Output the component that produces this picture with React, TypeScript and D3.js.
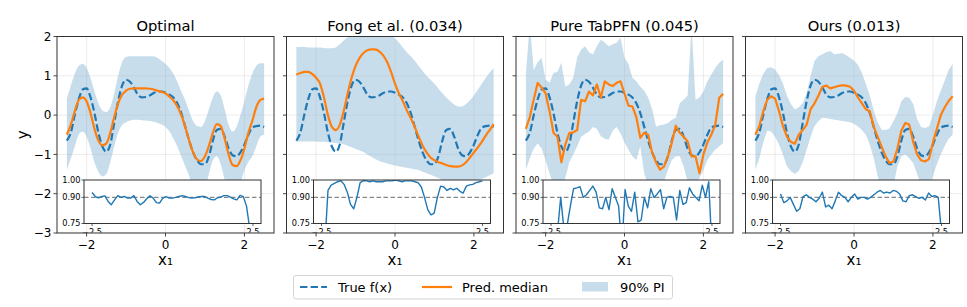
import * as d3 from 'd3';

// x grid of the posterior evaluation points
const X_VALUES = [
  -2.5, -2.4, -2.3, -2.2, -2.1, -2.0, -1.9, -1.8, -1.7, -1.6,
  -1.5, -1.4, -1.3, -1.2, -1.1, -1.0, -0.9, -0.8, -0.7, -0.6,
  -0.5, -0.4, -0.3, -0.2, -0.1, 0.0, 0.1, 0.2, 0.3, 0.4,
  0.5, 0.6, 0.7, 0.8, 0.9, 1.0, 1.1, 1.2, 1.3, 1.4,
  1.5, 1.6, 1.7, 1.8, 1.9, 2.0, 2.1, 2.2, 2.3, 2.4, 2.5,
];

const TRUE_F = [
  -0.65, -0.45, 0.0, 0.4, 0.65, 0.68, 0.45, 0.05, -0.45, -0.8,
  -0.93, -0.75, -0.2, 0.35, 0.75, 0.9, 0.85, 0.7, 0.52, 0.45,
  0.46, 0.5, 0.56, 0.6, 0.6, 0.57, 0.52, 0.45, 0.3, 0.05,
  -0.3, -0.65, -0.95, -1.15, -1.25, -1.25, -1.05, -0.65, -0.38, -0.35,
  -0.55, -0.85, -1.02, -1.05, -0.95, -0.75, -0.5, -0.32, -0.28, -0.27, -0.3,
];

const OPT_MEDIAN = [
  -0.5, -0.25, 0.1, 0.38, 0.45, 0.35, 0.05, -0.35, -0.65, -0.77,
  -0.72, -0.45, -0.05, 0.3, 0.52, 0.62, 0.67, 0.68, 0.68, 0.68,
  0.68, 0.67, 0.65, 0.62, 0.59, 0.55, 0.47, 0.37, 0.22, 0.0,
  -0.3, -0.65, -0.95, -1.13, -1.17, -1.05, -0.78, -0.45, -0.23, -0.28,
  -0.6, -1.0, -1.27, -1.3, -1.15, -0.85, -0.45, -0.15, 0.2, 0.38, 0.42,
];
const OPT_UPPER = [
  0.42, 0.75, 1.05, 1.25, 1.3, 1.2, 0.95, 0.6, 0.3, 0.12,
  0.08, 0.2, 0.55, 1.0, 1.35, 1.48, 1.5, 1.5, 1.5, 1.5,
  1.5, 1.5, 1.5, 1.45, 1.38, 1.3, 1.2, 1.05, 0.85, 0.6,
  0.38, 0.1, -0.15, -0.28, -0.3, -0.15, 0.15, 0.45, 0.6, 0.5,
  0.15, -0.25, -0.42, -0.3, 0.0, 0.35, 0.75, 1.05, 1.25, 1.32, 1.32,
];
const OPT_LOWER = [
  -1.4, -1.1, -0.8, -0.5, -0.42, -0.55, -0.85, -1.2, -1.45, -1.56,
  -1.5, -1.2, -0.8, -0.45, -0.25, -0.18, -0.14, -0.12, -0.12, -0.13,
  -0.14, -0.15, -0.17, -0.2, -0.24, -0.3, -0.42, -0.6, -0.8, -1.05,
  -1.3, -1.55, -1.85, -2.05, -2.1, -1.9, -1.5, -1.15, -1.05, -1.25,
  -1.65, -2.0, -2.15, -2.05, -1.75, -1.4, -1.2, -1.05, -0.8, -0.55, -0.5,
];

const FONG_MEDIAN = [
  1.03, 1.07, 1.1, 1.1, 1.05, 0.95, 0.8, 0.45, 0.0, -0.3,
  -0.38, -0.25, 0.1, 0.55, 0.95, 1.25, 1.45, 1.58, 1.65, 1.67,
  1.67, 1.62, 1.52, 1.35, 1.1, 0.8, 0.55, 0.35, 0.12, -0.08,
  -0.3, -0.55, -0.78, -0.95, -1.08, -1.15, -1.2, -1.23, -1.27, -1.3,
  -1.31, -1.31, -1.28, -1.2, -1.08, -0.95, -0.82, -0.68, -0.52, -0.38, -0.23,
];
const FONG_UPPER = [
  1.73, 1.73, 1.73, 1.72, 1.72, 1.72, 1.72, 1.71, 1.7, 1.7,
  1.72, 1.8, 1.9, 1.98, 2.05, 2.1, 2.15, 2.15, 2.15, 2.15,
  2.15, 2.15, 2.15, 2.1, 2.02, 1.95, 1.85, 1.72, 1.6, 1.5,
  1.38, 1.25, 1.12, 1.0, 0.9, 0.8, 0.68, 0.56, 0.45, 0.35,
  0.27, 0.22, 0.22, 0.28, 0.38, 0.5, 0.65, 0.8, 0.95, 1.08, 1.2,
];
const FONG_LOWER = [
  -0.67, -0.67, -0.67, -0.67, -0.67, -0.67, -0.68, -0.68, -0.69, -0.7,
  -0.71, -0.72, -0.74, -0.78, -0.82, -0.86, -0.9, -0.94, -1.0, -1.06,
  -1.12, -1.17, -1.2, -1.23, -1.26, -1.28, -1.3, -1.32, -1.34, -1.36,
  -1.38, -1.4, -1.44, -1.48, -1.52, -1.56, -1.6, -1.65, -1.7, -1.72,
  -1.74, -1.75, -1.75, -1.74, -1.72, -1.7, -1.66, -1.62, -1.58, -1.53, -1.48,
];

const TAB_MEDIAN = [
  -0.35, -0.05, 0.4, 0.82, 0.7, 0.55, 0.1, -0.45, -0.55, -1.2,
  -0.75, -0.46, -0.44, -0.38, 0.39, 0.35, 0.6, 0.5, 0.78, 0.45,
  0.86, 0.78, 0.74, 0.82, 0.86, 0.55, 0.24, 0.22, -0.05, -0.58,
  -0.45, -0.5, -0.95, -1.2, -1.39, -1.31, -1.05, -0.7, -0.27, -0.45,
  -0.55, -0.67, -1.05, -1.05, -1.48, -1.0, -0.7, -0.5, -0.25, 0.44, 0.54,
];
const TAB_UPPER = [
  1.07, 2.3, 1.15, 1.35, 1.45, 0.9, 0.82, 1.07, 1.1, 1.33,
  0.73, 0.78, 0.95, 1.46, 1.67, 1.75, 1.6, 1.54, 1.75, 1.92,
  1.85, 1.75, 1.8, 1.84, 1.97, 1.46, 1.3, 0.95, 0.86, 0.72,
  0.62, 0.45, 0.15, -0.29, -0.26, -0.24, -0.2, -0.12, -0.07, 0.3,
  0.39, 0.5, 2.3, 0.39, 0.45, 0.6, 0.86, 1.03, 1.2, 1.33, 1.41,
];
const TAB_LOWER = [
  -1.39, -1.1, -0.85, -0.72, -0.85, -1.15, -1.48, -1.8, -2.0, -1.9,
  -1.6, -1.2, -1.0, -0.8, -0.55, -0.48, -0.42, -0.3, -0.35, -0.54,
  -0.6, -0.63, -0.4, -0.3, -0.46, -0.7, -0.88, -1.05, -1.14, -0.8,
  -1.48, -1.8, -1.9, -1.85, -1.9, -1.7, -1.4, -1.14, -1.05, -1.05,
  -1.3, -1.7, -1.85, -1.9, -1.6, -1.39, -1.14, -1.0, -0.88, -0.8, -0.71,
];

const OURS_MEDIAN = [
  -0.5, -0.28, 0.1, 0.39, 0.48, 0.42, 0.1, -0.28, -0.55, -0.68,
  -0.73, -0.5, -0.38, -0.24, 0.15, 0.3, 0.5, 0.72, 0.75, 0.68,
  0.71, 0.74, 0.76, 0.75, 0.72, 0.62, 0.45, 0.3, 0.15, 0.1,
  -0.3, -0.55, -0.8, -1.05, -1.22, -1.18, -0.85, -0.4, -0.2, -0.24,
  -0.68, -1.0, -1.15, -1.18, -1.12, -0.7, -0.35, 0.0, 0.2, 0.36, 0.48,
];
const OURS_UPPER = [
  0.48, 0.8, 1.05, 1.2, 1.22, 1.16, 1.02, 0.8, 0.5, 0.28,
  0.14, 0.2, 0.3, 0.55, 1.0, 1.38, 1.5, 1.55, 1.6, 1.63,
  1.55, 1.56, 1.58, 1.52, 1.46, 1.38, 1.28, 1.08, 0.8, 0.5,
  0.12, -0.18, -0.37, -0.38, -0.34, -0.15, 0.05, 0.35, 0.46, 0.44,
  0.28, -0.1, -0.3, -0.33, -0.29, 0.0, 0.35, 0.62, 0.88, 1.15, 1.3,
];
const OURS_LOWER = [
  -1.39, -1.1, -0.7, -0.4, -0.42, -0.55, -0.75, -1.0, -1.3, -1.42,
  -1.5, -1.42, -1.2, -0.88, -0.55, -0.28, -0.15, -0.07, -0.08, -0.1,
  -0.12, -0.13, -0.15, -0.16, -0.18, -0.22, -0.29, -0.38, -0.5, -0.75,
  -1.1, -1.55, -1.9, -2.05, -2.1, -1.8, -1.3, -1.05, -1.0, -1.1,
  -1.22, -1.5, -1.8, -1.95, -1.9, -1.55, -1.25, -1.0, -0.78, -0.6, -0.5,
];

// local coverage of the 90% interval (inset)
const OPT_COVERAGE = [
  0.928, 0.905, 0.898, 0.905, 0.909, 0.877, 0.858, 0.886, 0.91, 0.9,
  0.906, 0.896, 0.896, 0.91, 0.877, 0.858, 0.871, 0.892, 0.909, 0.896,
  0.87, 0.868, 0.896, 0.905, 0.896, 0.896, 0.9, 0.905, 0.91, 0.905,
  0.899, 0.896, 0.898, 0.902, 0.906, 0.905, 0.896, 0.888, 0.886, 0.898,
  0.902, 0.91, 0.91, 0.902, 0.892, 0.886, 0.912, 0.905, 0.85, 0.72, 0.5,
];
const FONG_COVERAGE = [
  0.55, 0.62, 0.94, 0.97, 0.98, 0.99, 0.996, 0.975, 0.93, 0.86,
  0.835, 0.9, 0.985, 0.996, 0.995, 0.99, 0.995, 0.99, 0.99, 0.99,
  0.995, 0.995, 0.995, 1.0, 0.995, 0.99, 0.995, 0.995, 0.995, 0.99,
  0.985, 0.96, 0.9, 0.83, 0.8, 0.81, 0.9, 0.965, 0.96, 0.94,
  0.952, 0.943, 0.952, 0.935, 0.925, 0.965, 0.972, 0.975, 0.985, 0.99, 0.995,
];
const TAB_COVERAGE = [
  0.5, 0.55, 0.7, 0.9, 0.72, 0.74, 0.85, 0.95, 0.955, 0.962,
  0.9, 0.915, 0.94, 0.965, 0.93, 0.84, 0.835, 0.9, 0.83, 0.95,
  0.9, 0.85, 0.6, 0.945, 0.85, 0.82, 0.93, 0.76, 0.77, 0.9,
  0.84, 0.95, 0.9, 0.92, 0.945, 0.835, 0.9, 0.905, 0.9, 0.77,
  0.94, 0.86, 0.87, 0.955, 0.92, 0.9, 0.88, 0.97, 0.9, 0.99, 0.6,
];
const OURS_COVERAGE = [
  0.92, 0.87, 0.88, 0.9, 0.86, 0.82, 0.835, 0.905, 0.915, 0.9,
  0.89, 0.875, 0.895, 0.93, 0.845, 0.855, 0.835, 0.88, 0.93, 0.91,
  0.9, 0.875, 0.9, 0.92, 0.89, 0.9, 0.9, 0.89, 0.9, 0.915,
  0.93, 0.94, 0.925, 0.93, 0.925, 0.94, 0.935, 0.92, 0.88, 0.875,
  0.91, 0.915, 0.905, 0.895, 0.9, 0.885, 0.925, 0.905, 0.91, 0.9, 0.7,
];

const PANEL_TITLES = ['Optimal', 'Fong et al. (0.034)', 'Pure TabPFN (0.045)', 'Ours (0.013)'];
const X_TICKS = [-2, 0, 2];
const Y_TICKS = [2, 1, 0, -1, -2, -3];
const INSET_X_TICKS = [-2.5, 2.5];
const INSET_Y_TICKS = [1.0, 0.9, 0.75];
const TARGET_COVERAGE = 0.9;
const LEGEND_LABELS = ['True f(x)', 'Pred. median', '90% PI'];

const METHODS = [
  { median: OPT_MEDIAN, lower: OPT_LOWER, upper: OPT_UPPER, coverage: OPT_COVERAGE, smooth: true },
  { median: FONG_MEDIAN, lower: FONG_LOWER, upper: FONG_UPPER, coverage: FONG_COVERAGE, smooth: true },
  { median: TAB_MEDIAN, lower: TAB_LOWER, upper: TAB_UPPER, coverage: TAB_COVERAGE, smooth: false },
  { median: OURS_MEDIAN, lower: OURS_LOWER, upper: OURS_UPPER, coverage: OURS_COVERAGE, smooth: false },
];

const WIDTH = 967;
const HEIGHT = 307;
const PANEL_LEFT = 57;
const PANEL_STEP = 229.5;
const PANEL_W = 217;
const PLOT_TOP = 36.5;
const PLOT_BOTTOM = 233;
const INSET_LEFT = 27;
const INSET_RIGHT = 204;
const INSET_TOP = 180;
const INSET_BOTTOM = 223.5;

const FONT = 'DejaVu Sans, Verdana, sans-serif';
const BLUE = '#1f77b4';
const ORANGE = '#ff7f0e';
const SPINE = '#333333';

const fmtInt = d3.format('d');
const fmt1 = d3.format('.1f');
const fmt2 = d3.format('.2f');

type Method = (typeof METHODS)[number];

function Panel({ idx, method }: { idx: number; method: Method }) {
  const left = PANEL_LEFT + idx * PANEL_STEP;
  const right = left + PANEL_W;
  const x = d3.scaleLinear().domain([-2.75, 2.75]).range([left, right]);
  const y = d3.scaleLinear().domain([-3, 2]).range([PLOT_BOTTOM, PLOT_TOP]);
  const curve = method.smooth ? d3.curveMonotoneX : d3.curveLinear;

  const band = d3
    .area<number>()
    .x((d) => x(d))
    .y0((_, i) => y(method.lower[i]))
    .y1((_, i) => y(method.upper[i]))
    .curve(curve)(X_VALUES);
  const medianPath = d3
    .line<number>()
    .x((d) => x(d))
    .y((_, i) => y(method.median[i]))
    .curve(curve)(X_VALUES);
  const truePath = d3
    .line<number>()
    .x((d) => x(d))
    .y((_, i) => y(TRUE_F[i]))
    .curve(d3.curveMonotoneX)(X_VALUES);

  // inset: empirical coverage
  const ix = d3.scaleLinear().domain([-2.75, 2.75]).range([left + INSET_LEFT, left + INSET_RIGHT]);
  const iy = d3.scaleLinear().domain([0.75, 1.0]).range([INSET_BOTTOM, INSET_TOP]);
  const coveragePath = d3
    .line<number>()
    .x((d) => ix(d))
    .y((_, i) => iy(method.coverage[i]))(X_VALUES);

  const clipMain = `clip-main-${idx}`;
  const clipInset = `clip-inset-${idx}`;
  const clipLabels = `clip-lab-${idx}`;
  const cx = (left + right) / 2;

  return (
    <g>
      <defs>
        <clipPath id={clipMain}>
          <rect x={left} y={PLOT_TOP} width={PANEL_W} height={PLOT_BOTTOM - PLOT_TOP} />
        </clipPath>
        <clipPath id={clipInset}>
          <rect x={ix.range()[0]} y={INSET_TOP} width={ix.range()[1] - ix.range()[0]} height={INSET_BOTTOM - INSET_TOP} />
        </clipPath>
        <clipPath id={clipLabels}>
          <rect x={left} y={0} width={PANEL_W} height={PLOT_BOTTOM - 0.6} />
        </clipPath>
      </defs>

      <g clipPath={`url(#${clipMain})`}>
        <path d={band ?? ''} fill={BLUE} fillOpacity={0.25} stroke="none" />
        {X_TICKS.map((t) => (
          <line key={`gx${t}`} x1={x(t)} x2={x(t)} y1={PLOT_TOP} y2={PLOT_BOTTOM} stroke="#b0b0b0" strokeOpacity={0.3} strokeWidth={0.8} />
        ))}
        {Y_TICKS.map((t) => (
          <line key={`gy${t}`} x1={left} x2={right} y1={y(t)} y2={y(t)} stroke="#b0b0b0" strokeOpacity={0.3} strokeWidth={0.8} />
        ))}
        <path d={truePath ?? ''} fill="none" stroke={BLUE} strokeWidth={2.2} strokeDasharray="7.4 3.2" />
        <path d={medianPath ?? ''} fill="none" stroke={ORANGE} strokeWidth={2.2} strokeLinejoin="round" />
      </g>

      {/* main frame and ticks */}
      <rect x={left} y={PLOT_TOP} width={PANEL_W} height={PLOT_BOTTOM - PLOT_TOP} fill="none" stroke={SPINE} strokeWidth={1} />
      {X_TICKS.map((t) => (
        <g key={`xt${t}`}>
          <line x1={x(t)} x2={x(t)} y1={PLOT_BOTTOM} y2={PLOT_BOTTOM + 3.5} stroke={SPINE} strokeWidth={0.9} />
          <text x={x(t)} y={248.5} textAnchor="middle" fontFamily={FONT} fontSize={12} fill="#000">
            {fmtInt(t)}
          </text>
        </g>
      ))}
      {Y_TICKS.map((t) => (
        <g key={`yt${t}`}>
          <line x1={left - 3.5} x2={left} y1={y(t)} y2={y(t)} stroke={SPINE} strokeWidth={0.9} />
          {idx === 0 && (
            <text x={left - 5.5} y={y(t)} dy="0.36em" textAnchor="end" fontFamily={FONT} fontSize={12} fill="#000">
              {fmtInt(t)}
            </text>
          )}
        </g>
      ))}

      {/* inset */}
      <rect x={ix.range()[0]} y={INSET_TOP} width={ix.range()[1] - ix.range()[0]} height={INSET_BOTTOM - INSET_TOP} fill="#fff" />
      <line
        x1={ix.range()[0]}
        x2={ix.range()[1]}
        y1={iy(TARGET_COVERAGE)}
        y2={iy(TARGET_COVERAGE)}
        stroke="#888"
        strokeWidth={1.3}
        strokeDasharray="4.5 2.5"
      />
      <path d={coveragePath ?? ''} clipPath={`url(#${clipInset})`} fill="none" stroke={BLUE} strokeWidth={1.4} strokeLinejoin="round" />
      <rect x={ix.range()[0]} y={INSET_TOP} width={ix.range()[1] - ix.range()[0]} height={INSET_BOTTOM - INSET_TOP} fill="none" stroke={SPINE} strokeWidth={1} />
      {INSET_Y_TICKS.map((t) => (
        <g key={`iyt${t}`}>
          <line x1={ix.range()[0] - 2.5} x2={ix.range()[0]} y1={iy(t)} y2={iy(t)} stroke={SPINE} strokeWidth={0.8} />
          <text x={ix.range()[0] - 3.5} y={iy(t)} dy="0.36em" textAnchor="end" fontFamily={FONT} fontSize={8.2} fill="#000">
            {fmt2(t)}
          </text>
        </g>
      ))}
      {INSET_X_TICKS.map((t) => (
        <g key={`ixt${t}`}>
          <line x1={ix(t)} x2={ix(t)} y1={INSET_BOTTOM} y2={INSET_BOTTOM + 2.5} stroke={SPINE} strokeWidth={0.8} />
          <text clipPath={`url(#${clipLabels})`} x={ix(t)} y={234.6} textAnchor="middle" fontFamily={FONT} fontSize={8.2} fill="#000">
            {fmt1(t)}
          </text>
        </g>
      ))}

      <text x={cx} y={31} textAnchor="middle" fontFamily={FONT} fontSize={14.7} fill="#000">
        {PANEL_TITLES[idx]}
      </text>
      <text x={cx} y={265} textAnchor="middle" fontFamily={FONT} fontSize={15} fill="#000">
        x₁
      </text>
    </g>
  );
}

function Legend() {
  const rowY = 287;
  return (
    <g fontFamily={FONT} fontSize={13} fill="#000">
      <rect x={293.5} y={275.5} width={379} height={23.5} rx={2.5} fill="#fff" stroke="#d0d0d0" strokeWidth={0.9} />
      <line x1={300} x2={327} y1={rowY} y2={rowY} stroke={BLUE} strokeWidth={2.2} strokeDasharray="7.4 3.2" />
      <text x={338} y={291.5}>{LEGEND_LABELS[0]}</text>
      <line x1={422} x2={452} y1={rowY} y2={rowY} stroke={ORANGE} strokeWidth={2.2} />
      <text x={462} y={291.5}>{LEGEND_LABELS[1]}</text>
      <rect x={582} y={282} width={26} height={9.5} fill={BLUE} fillOpacity={0.25} />
      <text x={620} y={291.5}>{LEGEND_LABELS[2]}</text>
    </g>
  );
}

export default function App() {
  return (
    <svg
      width={WIDTH}
      height={HEIGHT}
      viewBox={`0 0 ${WIDTH} ${HEIGHT}`}
      style={{ position: 'absolute', left: 0, top: 0, background: '#fff' }}
    >
      {METHODS.map((m, i) => (
        <Panel key={PANEL_TITLES[i]} idx={i} method={m} />
      ))}
      <text
        transform={`translate(28, ${(PLOT_TOP + PLOT_BOTTOM) / 2}) rotate(-90)`}
        textAnchor="middle"
        fontFamily={FONT}
        fontSize={15}
        fill="#000"
      >
        y
      </text>
      <Legend />
    </svg>
  );
}
